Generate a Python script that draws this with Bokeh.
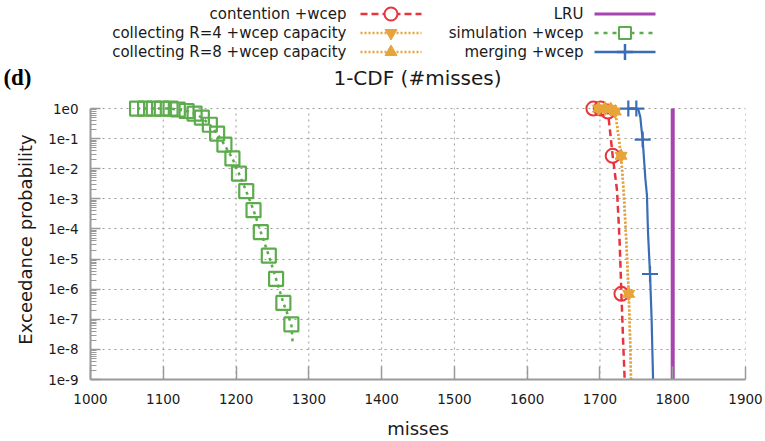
import math
from bokeh.plotting import figure
from bokeh.layouts import column
from bokeh.models import Range1d, FixedTicker, CustomJSTickFormatter, LinearAxis
from bokeh.core.properties import value
from bokeh.embed import file_html
from bokeh.resources import INLINE

# ---------------- data ----------------
x_ticks = [1000, 1100, 1200, 1300, 1400, 1500, 1600, 1700, 1800, 1900]
y_ticks = [1e0, 1e-1, 1e-2, 1e-3, 1e-4, 1e-5, 1e-6, 1e-7, 1e-8, 1e-9]

# contention +wcep
con_x = [1691, 1701, 1711, 1717.5, 1723.5, 1727, 1729.5, 1732, 1734]
con_p = [1, 1, 0.8, 0.027, 1.9e-3, 4e-5, 7e-7, 1.5e-8, 1e-9]
con_mx = [1691, 1701, 1711, 1717.5, 1729.5]
con_mp = [1, 1, 0.8, 0.027, 7e-7]

# collecting R=4 +wcep capacity
r4_x = [1698, 1707, 1715, 1721, 1729, 1732.5, 1736, 1739.5, 1741.5, 1742.7]
r4_p = [1, 1, 0.95, 0.8, 0.027, 1.9e-3, 5e-5, 7e-7, 2e-8, 1e-9]
r4_mx = [1698, 1707, 1715, 1721, 1729, 1739.5]
r4_mp = [1, 1, 0.95, 0.8, 0.027, 7e-7]

# collecting R=8 +wcep capacity
r8_x = [1698, 1707, 1715, 1721, 1729, 1732.5, 1736, 1739.5, 1741.5, 1742.7]
r8_p = [1, 1, 0.95, 0.8, 0.027, 1.9e-3, 5e-5, 7e-7, 2e-8, 1e-9]
r8_mx = [1698, 1707, 1715, 1721, 1729, 1739.5]
r8_mp = [1, 1, 0.95, 0.8, 0.027, 7e-7]

# LRU
lru_x = [1800, 1800]
lru_p = [1, 1e-9]

# simulation +wcep
sim_x = [1064, 1075, 1087, 1098, 1110, 1120, 1132, 1143, 1153, 1164, 1174,
         1184, 1195, 1204, 1214, 1224, 1234, 1245, 1255, 1265, 1276, 1278]
sim_p = [1, 1, 1, 1, 1, 0.93, 0.83, 0.68, 0.5, 0.29, 0.148,
         0.063, 0.022, 6.9e-3, 1.8e-3, 4.2e-4, 7.9e-5, 1.3e-5, 2.2e-6, 3.5e-7, 6.8e-8, 1.4e-8]
sim_mx = sim_x[:-1]
sim_mp = sim_p[:-1]

# merging +wcep
mer_x = [1739, 1750, 1753, 1755.5, 1757, 1758.7, 1762.4, 1764.6, 1766, 1768.8, 1771, 1772, 1773]
mer_p = [1, 1, 0.88, 0.52, 0.22, 0.093, 4.7e-3, 1.3e-3, 8e-5, 3.2e-6, 1e-7, 1e-8, 1e-9]
mer_mx = [1739, 1750, 1758.7, 1768.8]
mer_mp = [1, 1, 0.093, 3.2e-6]

# ---------------- styles ----------------
RED = "#e8343c"
ORANGE = "#e6a43a"
PURPLE = "#a844b0"
GREEN = "#5cab4c"
BLUE = "#3b6db6"
FONT = "DejaVu Sans"
TXT = "#1a1a1a"
GRID = "#9a9a9a"

W = 765
H_LEG = 98
H_MAIN = 343
FL, FR, FT, FB = 90, 745, 99, 380  # frame edges on the page (top has headroom for markers)
Y_LO, Y_HI, Y_TOP = 1e-9, 1.0, 2.0

# ---------------- legend / title strip ----------------
# its frame is aligned with the main frame by the column layout -> data x == page x
leg = figure(width=W, height=H_LEG, x_range=Range1d(FL, FR), y_range=Range1d(H_LEG, 0),
             output_backend="svg", toolbar_location=None,
             x_axis_location=None, y_axis_location=None,
             min_border_left=FL, min_border_right=W - FR, min_border_top=0, min_border_bottom=0)
leg.grid.visible = False
leg.outline_line_color = None

rows = [13.5, 32.5, 51.5]
col_text = [346, 583]
col_line = [(360, 421), (594, 655)]

entries = [
    (0, 0, "contention +wcep", RED, "7 4", 2.5, "circle"),
    (0, 1, "collecting R=4 +wcep capacity", ORANGE, "2 2", 2.5, "inverted_triangle"),
    (0, 2, "collecting R=8 +wcep capacity", ORANGE, "2 2", 2.5, "triangle"),
    (1, 0, "LRU", PURPLE, "solid", 3.0, None),
    (1, 1, "simulation +wcep", GREEN, "4 5", 2.5, "square"),
    (1, 2, "merging +wcep", BLUE, "solid", 2.5, "cross"),
]

leg.text(x=[col_text[e[0]] for e in entries], y=[rows[e[1]] for e in entries],
         text=[e[2] for e in entries], text_align="right", text_baseline="middle",
         text_font=value(FONT), text_font_size="15px", text_color=TXT)

for c, r, label, color, dash, lw, marker in entries:
    x0, x1 = col_line[c]
    leg.line(x=[x0, x1], y=[rows[r], rows[r]], line_color=color, line_width=lw, line_dash=dash)
    cx = (x0 + x1) / 2
    if marker == "circle":
        leg.scatter(x=[cx], y=[rows[r]], marker="circle", size=13, fill_color="white",
                    line_color=color, line_width=2)
    elif marker in ("triangle", "inverted_triangle"):
        leg.scatter(x=[cx], y=[rows[r]], marker=marker, size=12, fill_color=color,
                    line_color=color, line_width=1)
    elif marker == "square":
        leg.scatter(x=[cx], y=[rows[r]], marker="square", size=12, fill_color="white",
                    line_color=color, line_width=2)
    elif marker == "cross":
        leg.scatter(x=[cx], y=[rows[r]], marker="cross", size=16, line_color=color, line_width=2.5)

leg.text(x=[417], y=[77], text=["1-CDF (#misses)"], text_align="center",
         text_baseline="middle", text_font=value(FONT), text_font_size="20px", text_color=TXT)

# panel tag "(d)" drawn as the single tick label of an invisible left axis
tag_axis = LinearAxis(ticker=FixedTicker(ticks=[77]),
                      formatter=CustomJSTickFormatter(code='return "(d)";'),
                      axis_line_color=None, major_tick_line_color=None, minor_tick_line_color=None,
                      major_label_standoff=53, major_label_text_font="Liberation Serif",
                      major_label_text_font_size="23px", major_label_text_font_style="bold",
                      major_label_text_color="#000000")
leg.add_layout(tag_axis, "left")

# ---------------- main plot ----------------
p = figure(width=W, height=H_MAIN, x_range=Range1d(1000, 1900), y_range=Range1d(Y_LO, Y_TOP),
           y_axis_type="log", output_backend="svg", toolbar_location=None,
           min_border_left=FL, min_border_right=W - FR, min_border_top=FT - H_LEG,
           min_border_bottom=H_LEG + H_MAIN - FB)
p.outline_line_color = None

xt = FixedTicker(ticks=x_ticks)
minor = [k * 10.0 ** d for d in range(-9, 0) for k in range(2, 10)]
yt = FixedTicker(ticks=y_ticks, minor_ticks=minor)

p.xaxis.ticker = xt
p.yaxis.ticker = yt
p.yaxis.bounds = (Y_LO, Y_HI)
p.xgrid.visible = False
p.ygrid.ticker = FixedTicker(ticks=y_ticks)
p.yaxis.formatter = CustomJSTickFormatter(code='return "1e" + Math.round(Math.log10(tick)).toString();')

p.ygrid.grid_line_color = GRID
p.ygrid.grid_line_dash = "2 4"
p.ygrid.grid_line_width = 1

# vertical grid lines, only up to 1e0
p.segment(x0=x_ticks, y0=[Y_LO] * len(x_ticks), x1=x_ticks, y1=[Y_HI] * len(x_ticks),
          line_color=GRID, line_dash="2 4", line_width=1)

for ax in (p.xaxis, p.yaxis):
    ax.axis_line_color = GRID
    ax.axis_line_width = 2
    ax.major_tick_line_color = GRID
    ax.major_tick_line_width = 1.5
    ax.minor_tick_line_color = GRID
    ax.major_tick_out = 0
    ax.minor_tick_out = 0
    ax.major_label_text_font = FONT
    ax.major_label_text_font_size = "13.5px"
    ax.major_label_text_color = TXT
    ax.axis_label_text_font = FONT
    ax.axis_label_text_font_size = "18px"
    ax.axis_label_text_font_style = "normal"
    ax.axis_label_text_color = TXT

p.xaxis.axis_label = "misses"
p.xaxis.major_label_standoff = 14
p.xaxis.axis_label_standoff = 11
p.yaxis.axis_label = "Exceedance probability"
p.yaxis.major_label_standoff = 12
p.yaxis.axis_label_standoff = 9

p.xaxis.major_tick_in = 13
p.xaxis.minor_tick_in = 0
p.xaxis.minor_tick_line_color = None
p.yaxis.major_tick_in = 10
p.yaxis.minor_tick_in = 6

# series
p.line(con_x, con_p, line_color=RED, line_width=2.5, line_dash="7 4")
p.scatter(con_mx, con_mp, marker="circle", size=14, fill_color=None, line_color=RED, line_width=2)

p.line(r4_x, r4_p, line_color=ORANGE, line_width=2.5, line_dash="2 2")
p.scatter(r4_mx, r4_mp, marker="inverted_triangle", size=12, fill_color=ORANGE, line_color=ORANGE)

p.line(r8_x, r8_p, line_color=ORANGE, line_width=2.5, line_dash="2 2")
p.scatter(r8_mx, r8_mp, marker="triangle", size=12, fill_color=ORANGE, line_color=ORANGE)

p.line(lru_x, lru_p, line_color=PURPLE, line_width=4)

p.line(sim_x, sim_p, line_color=GREEN, line_width=2.5, line_dash="3 4")
p.scatter(sim_mx, sim_mp, marker="square", size=14, fill_color=None, line_color=GREEN, line_width=2.2)

p.line(mer_x, mer_p, line_color=BLUE, line_width=2.2)
p.scatter(mer_mx, mer_mp, marker="cross", size=16, line_color=BLUE, line_width=2.2)

layout = column(leg, p, spacing=0)
open("out.html", "w").write(file_html(layout, INLINE))
